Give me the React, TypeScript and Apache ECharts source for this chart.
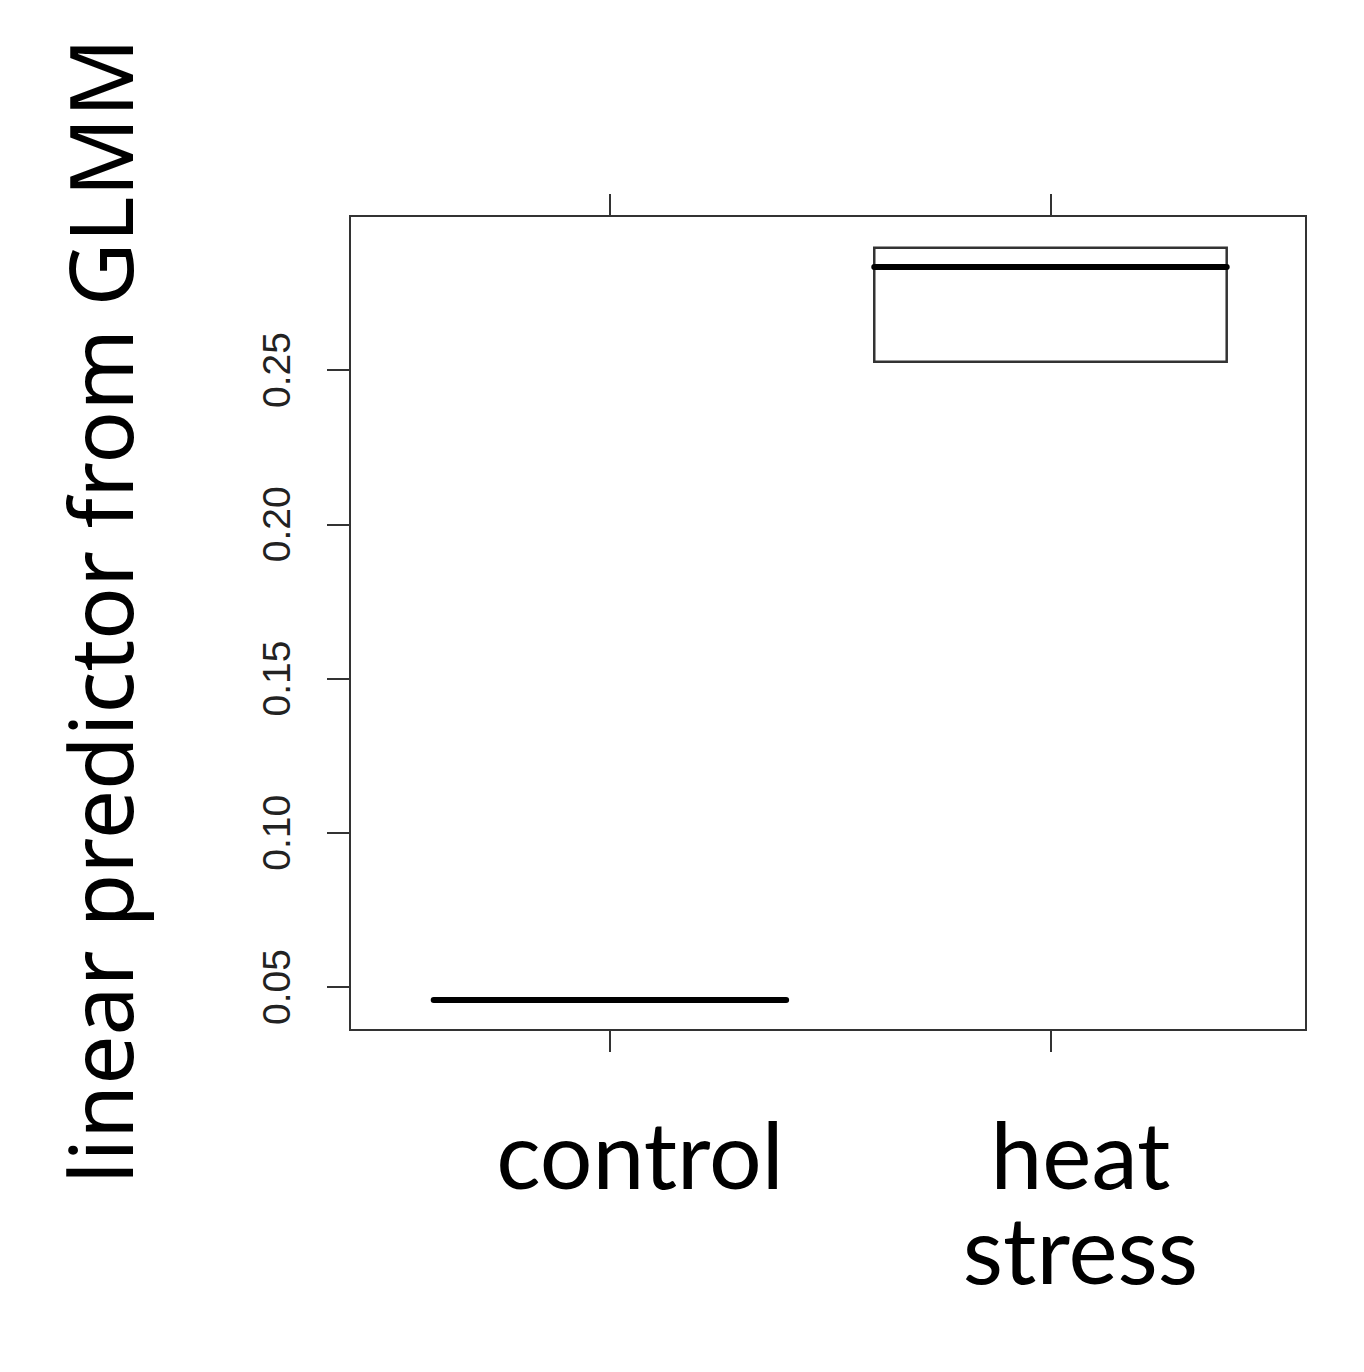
import React, { useEffect, useRef } from "react";
import * as echarts from "echarts";

const categories = ["control", "heat\nstress"];
const positions = [1, 2];
const lowerHinge = [0.0458, 0.2527];
const medians = [0.0458, 0.2834];
const upperHinge = [0.0458, 0.2896];
const yTicks = [0.05, 0.1, 0.15, 0.2, 0.25];
const xTicks = [1, 2];
const yTitle = "linear predictor from GLMM";

export default function App() {
  const ref = useRef<HTMLDivElement>(null);
  useEffect(() => {
    if (!ref.current) return;
    const chart = echarts.init(ref.current, null, { renderer: "svg" });
    const data = positions.map((p, i) => [p, lowerHinge[i], medians[i], upperHinge[i]]);
    const xMin = 0.41;
    const xMax = 2.58;
    const labelShift = 0.068;
    const option: any = {
      animation: false,
      backgroundColor: "#ffffff",
      grid: {
        left: 350,
        top: 216,
        width: 956,
        height: 814,
        show: true,
        borderColor: "#333",
        borderWidth: 2,
        backgroundColor: "transparent",
      },
      xAxis: [
        {
          type: "value",
          min: xMin,
          max: xMax,
          position: "bottom",
          splitLine: { show: false },
          axisLine: { show: false },
          axisTick: { show: true, length: 22, inside: false, customValues: xTicks, lineStyle: { color: "#333", width: 2 } },
          axisLabel: { show: false },
        },
        {
          type: "value",
          min: xMin,
          max: xMax,
          position: "top",
          splitLine: { show: false },
          axisLine: { show: false },
          axisTick: { show: true, length: 22, inside: false, customValues: xTicks, lineStyle: { color: "#333", width: 2 } },
          axisLabel: { show: false },
        },
        {
          type: "value",
          min: xMin - labelShift,
          max: xMax - labelShift,
          position: "bottom",
          splitLine: { show: false },
          axisLine: { show: false },
          axisTick: { show: false },
          axisLabel: {
            show: true,
            customValues: xTicks,
            margin: 75,
            fontFamily: "Lato",
            fontSize: 93,
            lineHeight: 95,
            color: "#000",
            formatter: (v: number) => categories[xTicks.indexOf(Math.round(v))] ?? "",
          },
        },
      ],
      yAxis: {
        type: "value",
        min: 0.0361,
        max: 0.2999,
        splitLine: { show: false },
        axisLine: { show: false },
        axisTick: { show: true, length: 23, inside: false, customValues: yTicks, lineStyle: { color: "#333", width: 2 } },
        axisLabel: {
          show: true,
          customValues: yTicks,
          rotate: 90,
          margin: 54,
          fontFamily: "Liberation Sans",
          fontSize: 39,
          color: "#222",
          formatter: (v: number) => v.toFixed(2),
        },
        name: yTitle,
        nameLocation: "middle",
        nameGap: 207,
        nameTextStyle: { fontFamily: "Noto Sans", fontSize: 87.5, color: "#000", padding: [0, 0, 0, 24] },
      },
      series: [
        {
          type: "custom",
          xAxisIndex: 0,
          yAxisIndex: 0,
          data,
          renderItem: (params: any, api: any) => {
            const x = api.value(0);
            const lo = api.value(1);
            const md = api.value(2);
            const hi = api.value(3);
            const half = 0.4;
            const pLoL = api.coord([x - half, lo]);
            const pHiR = api.coord([x + half, hi]);
            const pMdL = api.coord([x - half, md]);
            const pMdR = api.coord([x + half, md]);
            const children: any[] = [];
            if (hi > lo) {
              children.push({
                type: "rect",
                shape: { x: pLoL[0], y: pHiR[1], width: pHiR[0] - pLoL[0], height: pLoL[1] - pHiR[1] },
                style: { fill: "none", stroke: "#333", lineWidth: 2.5 },
              });
            }
            children.push({
              type: "line",
              shape: { x1: pMdL[0], y1: pMdL[1], x2: pMdR[0], y2: pMdR[1] },
              style: { stroke: "#000", lineWidth: 6, lineCap: "round" },
            });
            return { type: "group", children };
          },
        },
      ],
    };
    chart.setOption(option);
    return () => chart.dispose();
  }, []);
  return (
    <div
      ref={ref}
      style={{ position: "absolute", left: 0, top: 0, width: 1364, height: 1372 }}
    />
  );
}
